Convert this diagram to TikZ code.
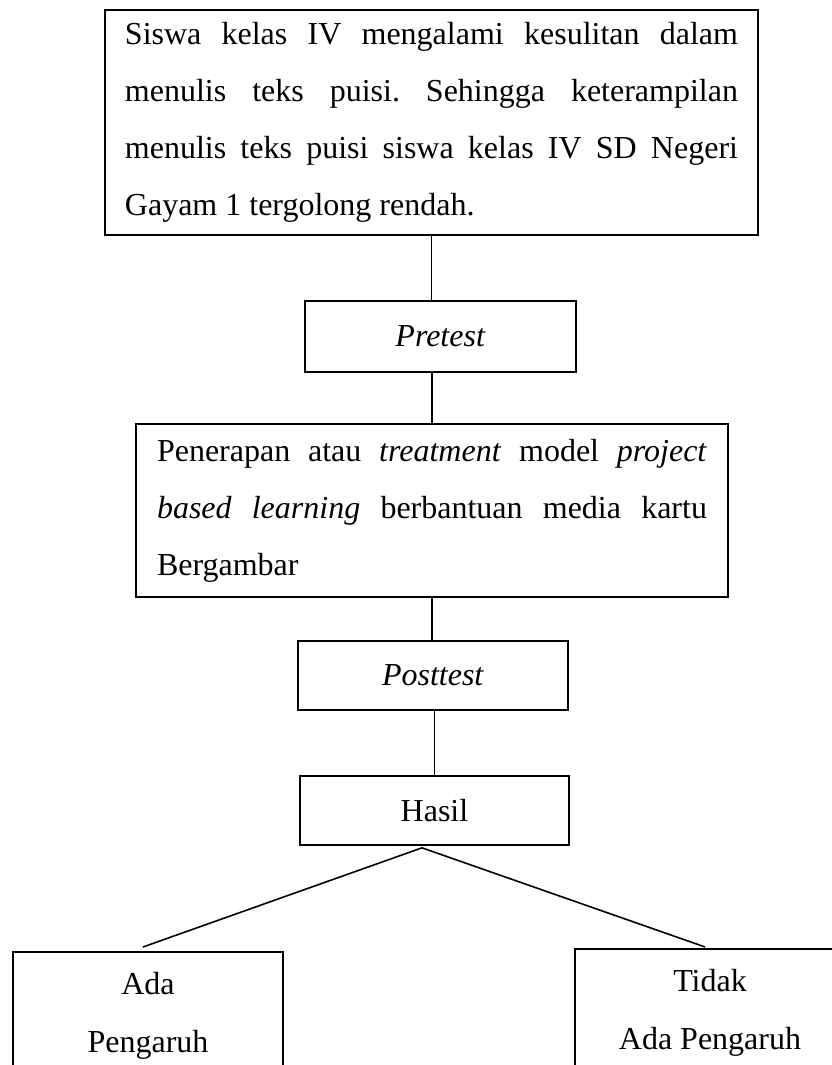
\documentclass[tikz,border=0pt]{standalone}
\usepackage{fontspec}
\setmainfont{Liberation Serif}
\tolerance=10000
\hyphenpenalty=10000
\frenchspacing

\begin{document}
\begin{tikzpicture}[
	x=0.375pt, y=-0.375pt,
	box/.style={draw, rectangle, line width=0.6pt, inner ysep=0pt,
		font=\fontsize{12}{21.4}\selectfont},
	textbox/.style={box, align=justify},
	stepbox/.style={box, align=center, minimum width=101.25pt, minimum height=25.9pt},
	resultbox/.style={box, align=center, anchor=north, minimum width=101.25pt,
		inner ysep=7.5pt, text depth=40pt, font=\fontsize{12}{21.75}\selectfont},
	link/.style={line width=0.6pt}
	]
	
	%-----------------------
	% Row heights (pixel units, y downwards)
	%-----------------------
	\def\hproblem{122.5}   % problem statement
	\def\hpre{336.5}       % pretest
	\def\htreat{510.5}     % treatment
	\def\hpost{675.5}      % posttest
	\def\hresult{810.5}    % hasil
	
	\path[use as bounding box, clip] (0,0) rectangle (832,1065);
	
	%-----------------------
	% Row 1: problem statement
	%-----------------------
	\node[textbox, text width=229.9pt, inner xsep=7.5pt, minimum height=84.4pt] (problem) at (431.5,\hproblem)
		{Siswa kelas IV mengalami kesulitan dalam\linebreak
		 menulis teks puisi. Sehingga keterampilan\linebreak
		 menulis teks puisi siswa kelas IV SD Negeri\linebreak
		 Gayam 1 tergolong rendah.};
	
	%-----------------------
	% Row 2: pretest
	%-----------------------
	\node[stepbox, minimum width=101.6pt, minimum height=26.6pt] (pretest) at (440.5,\hpre) {\textit{Pretest}};
	
	%-----------------------
	% Row 3: treatment
	%-----------------------
	\node[textbox, text width=206.25pt, inner xsep=7.9pt, minimum height=64.9pt] (treat) at (432,\htreat)
		{Penerapan atau \textit{treatment} model \textit{project}\linebreak
		 \textit{based learning} berbantuan media kartu\linebreak
		 Bergambar};
	
	%-----------------------
	% Row 4: posttest and Row 5: hasil
	%-----------------------
	\node[stepbox] (posttest) at (433,\hpost) {\textit{Posttest}};
	\node[stepbox, minimum width=100.9pt] (hasil) at (434.5,\hresult) {Hasil};
	
	%-----------------------
	% Row 6: the two outcomes (cut off at the bottom)
	%-----------------------
	\node[resultbox] (ada)   at (148,951) {Ada\\Pengaruh};
	\node[resultbox] (tidak) at (710,948) {Tidak\\Ada Pengaruh};
	
	%-----------------------
	% Connections
	%-----------------------
	\draw[link] (problem.south) -- (problem.south |- pretest.north);
	\draw[link] (pretest.south -| treat.north) -- (treat.north);
	\draw[link] (treat.south) -- (treat.south |- posttest.north);
	\draw[link] (posttest.south -| hasil.north) -- (hasil.north);
	
	% hasil -> outcomes
	\coordinate (split) at ([xshift=-4.7pt,yshift=-0.75pt]hasil.south);
	\draw[link] (split) -- ([xshift=-1.9pt,yshift=1.5pt]ada.north);
	\draw[link] (split) -- ([xshift=-1.9pt,yshift=0.4pt]tidak.north);
	
\end{tikzpicture}
\end{document}
